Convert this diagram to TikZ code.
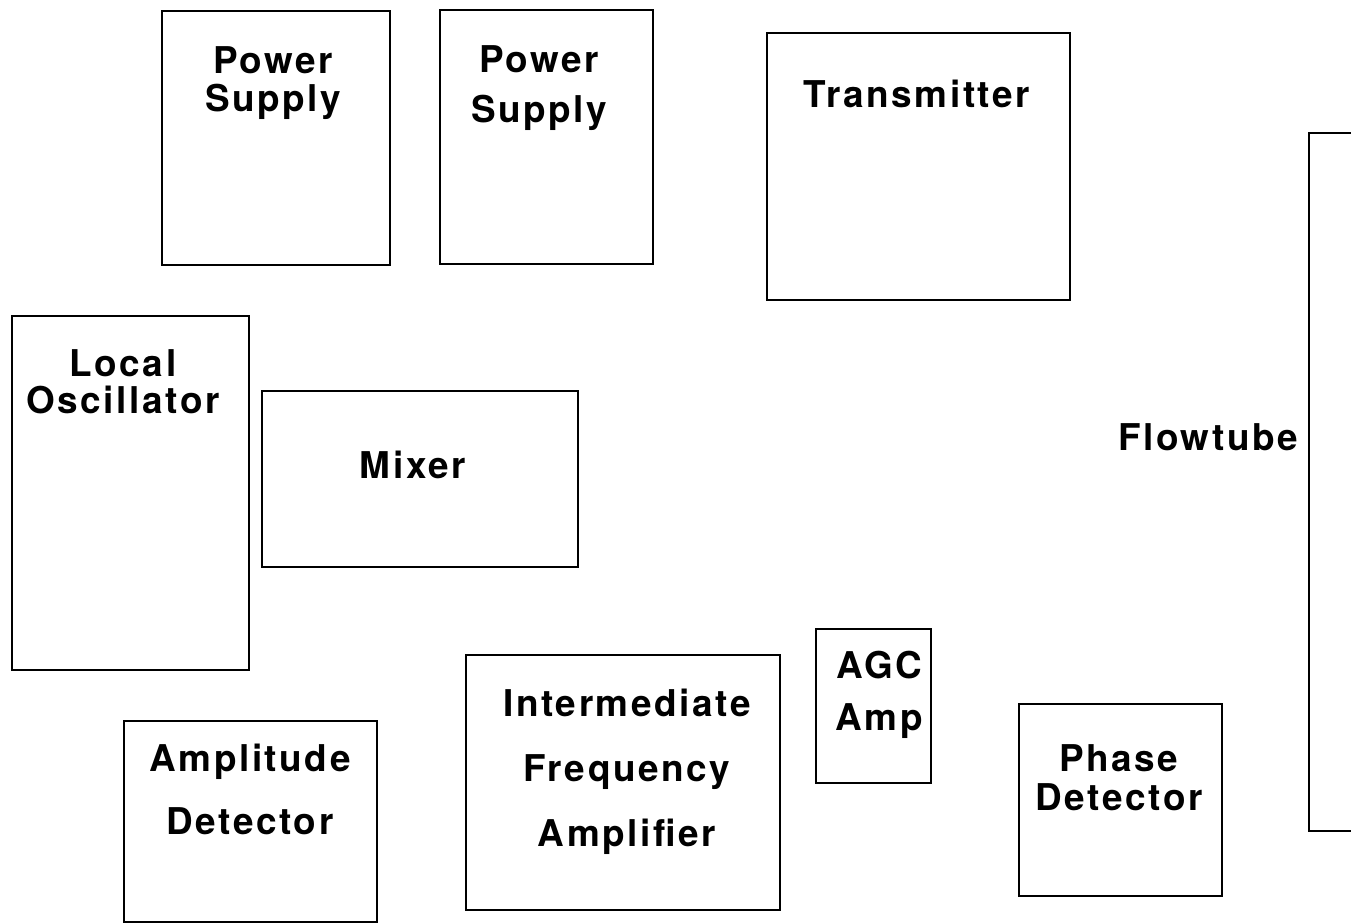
\documentclass[tikz,border=0pt]{standalone}
\usepackage{fontspec}
\newfontfamily\labelfont{TeX Gyre Heros}[LetterSpace=7]
\usetikzlibrary{positioning}

\begin{document}
\begin{tikzpicture}[
            x=0.02cm, y=-0.02cm,
            unit/.style 2 args={draw, line width=1.1pt, anchor=north west, inner sep=0pt,
                minimum width=#1, minimum height=#2},
            lbl/.style={anchor=north, inner sep=0pt, align=center,
                font=\labelfont\fontsize{21pt}{#1}\selectfont\bfseries},
            lbl/.default=24pt,
        ]
            \useasboundingbox (0,0) rectangle (1351,923);
            \clip (0,0) rectangle (1351,923);
            % top row
            \node[unit={4.56cm}{5.08cm}] (supplyA) at (161,10) {};
            \node[unit={4.26cm}{5.08cm}] (supplyB) at (439,9) {};
            \node[unit={6.06cm}{5.34cm}] (xmtr) at (766,32) {};
            \node[lbl=21.6pt] (supplyA-txt) at (273,46) {Power\\Supply};
            \node[lbl=28.5pt] (supplyB-txt) at (539,45) {Power\\Supply};
            \node[lbl] (xmtr-txt) at (917,80) {Transmitter};
            % flowtube runs off the right edge
            \node[unit={2.2cm}{13.96cm}] (flowtube) at (1308,132) {};
            \node[lbl] (flowtube-txt) at (1208,423) {Flowtube};
            % middle row
            \node[unit={4.74cm}{7.08cm}] (lo) at (11,315) {};
            \node[unit={6.32cm}{3.52cm}] (mixer) at (261,390) {};
            \node[lbl=21.1pt] (lo-txt) at (123,349) {Local\\Oscillator};
            \node[lbl] (mixer-txt) at (413,451) {Mixer};
            % bottom row
            \node[unit={5.06cm}{4.02cm}] (ampdet) at (123,720) {};
            \node[unit={6.28cm}{5.10cm}] (ifamp) at (465,654) {};
            \node[unit={2.30cm}{3.08cm}] (agc) at (815,628) {};
            \node[unit={4.06cm}{3.84cm}] (phasedet) at (1018,703) {};
            \node[lbl=35.8pt] (ampdet-txt) at (250,744) {Amplitude\\Detector};
            \node[lbl=37pt] (ifamp-txt) at (627,689) {Intermediate\\Frequency\\Amplifier};
            \node[lbl=29.6pt] (agc-txt) at (879,651) {AGC\\Amp};
            \node[lbl=22.2pt] (phasedet-txt) at (1119,744) {Phase\\Detector};
        \end{tikzpicture}
\end{document}
